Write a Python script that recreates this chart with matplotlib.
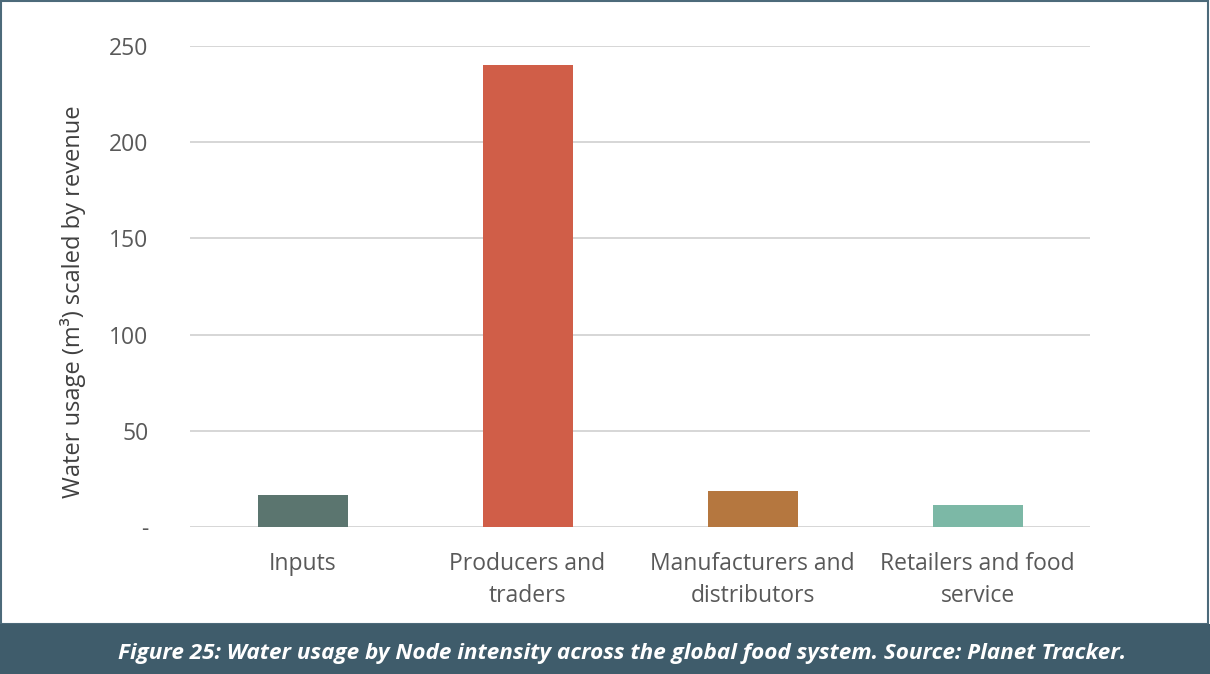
import matplotlib.pyplot as plt
from matplotlib.patches import Rectangle

# bar data
categories = ["Inputs", "Producers and\ntraders", "Manufacturers and\ndistributors", "Retailers and food\nservice"]
water_usage = [16.6, 240, 18.7, 11.4]
bar_colors = ["#5b756f", "#d05e48", "#b5773f", "#7cb8a6"]
y_ticks = [0, 50, 100, 150, 200, 250]
y_tick_labels = ["-", "50", "100", "150", "200", "250"]

plt.rcParams["font.family"] = ["Open Sans", "DejaVu Sans"]

fig = plt.figure(figsize=(12.1, 6.74), dpi=100)
ax = fig.add_axes([190 / 1210, 1 - 527 / 674, 900 / 1210, 481 / 674])

x = range(len(categories))
ax.bar(x, water_usage, width=0.4, color=bar_colors, zorder=3)
ax.set_xlim(-0.5, 3.5)
ax.set_ylim(0, 250)
ax.set_yticks(y_ticks)
ax.set_yticklabels(y_tick_labels)
ax.set_xticks(list(x))
ax.set_xticklabels(categories, linespacing=1.42)
ax.tick_params(axis="y", length=0, pad=30, labelsize=16.5, labelcolor="#595959")
ax.tick_params(axis="x", length=0, pad=18, labelsize=16.5, labelcolor="#595959")
ax.grid(axis="y", color="#d6d6d6", linewidth=1.4, zorder=0)
for s in ax.spines.values():
    s.set_visible(False)
ax.set_ylabel("Water usage (m³) scaled by revenue", fontsize=17, color="#404040",
              va="center", ha="center")
ax.yaxis.set_label_coords(-0.13, 0.468)

# frame and caption bar
fig.patches.append(Rectangle((0.001, 50 / 674), 0.997, 1 - 50 / 674 - 0.002, transform=fig.transFigure,
                             fill=False, edgecolor="#4c6a7a", linewidth=1.5))
fig.patches.append(Rectangle((0, 0), 1, 50 / 674, transform=fig.transFigure,
                             facecolor="#3f5c6b", edgecolor="none"))
fig.text(622 / 1210, 21 / 674, "Figure 25: Water usage by Node intensity across the global food system. Source: Planet Tracker.",
         ha="center", va="center", color="white", fontsize=16.2, fontweight="bold", fontstyle="italic")

fig.savefig("out.png", dpi=100, facecolor="white")
